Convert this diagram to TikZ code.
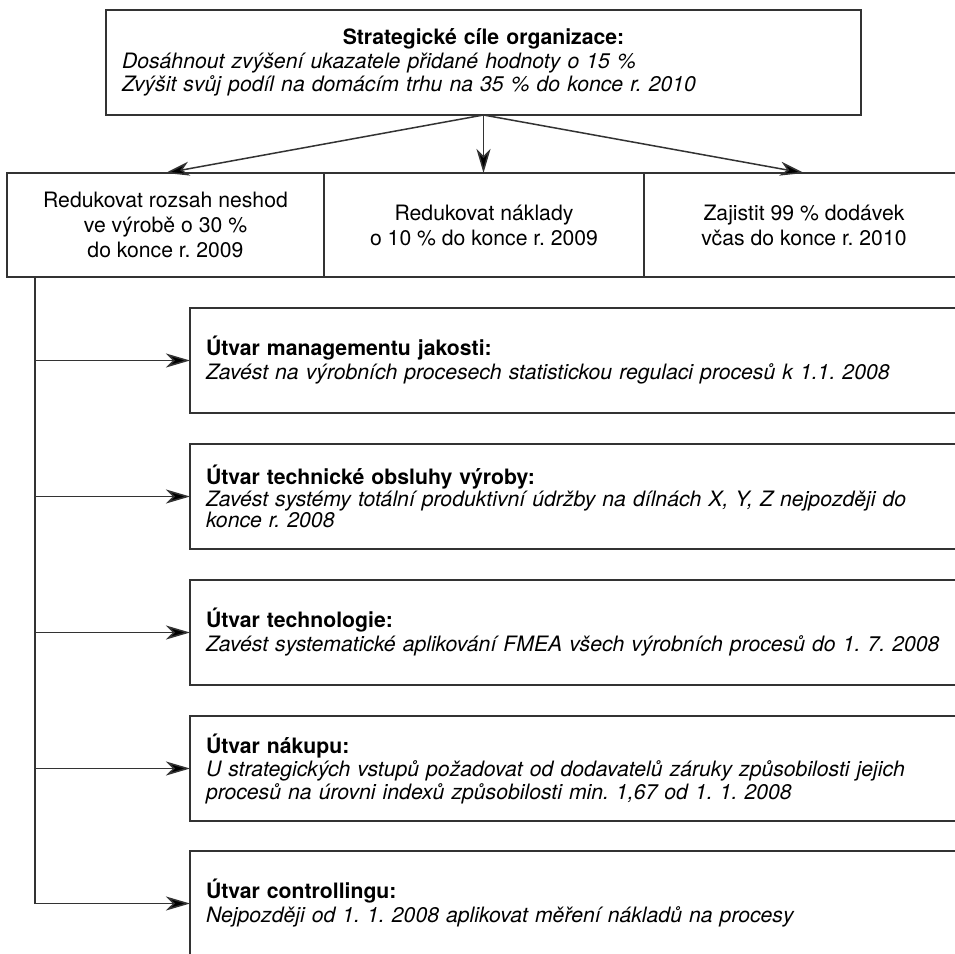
\documentclass[tikz,border=0pt]{standalone}
\usepackage{fontspec}
\setmainfont{TeX Gyre Heros}
\usetikzlibrary{arrows.meta}
\definecolor{ink}{HTML}{333333}

\begin{document}
\frenchspacing
\begin{tikzpicture}[x=1pt,y=-1pt,
  every node/.style={font=\fontsize{21.2}{23}\selectfont, text=black},
  box/.style={draw=ink, line width=1.5pt, rectangle, inner sep=0pt, outer sep=0pt},
  goalcell/.style={box, anchor=north west, minimum height=104pt, align=center,
    font=\fontsize{21.2}{25}\selectfont},
  unitbox/.style={box, anchor=north west, minimum height=105pt,
    text width=760pt, inner xsep=16pt, align=left},
  link/.style={draw=ink, line width=1.5pt},
  arr/.style={link, -{Stealth[length=24pt,width=14pt,inset=7pt,fill=black]}}]

% page frame
\useasboundingbox (0,0) rectangle (955,953);
\fill[white] (0,0) rectangle (955,953);
\clip (0,0) rectangle (955,953);

% strategic objectives
\node[box, anchor=north west, minimum height=105pt, text width=723pt,
  inner xsep=16pt, align=left, font=\fontsize{21.2}{23.5}\selectfont] (top) at (106,10)
  {\makebox[\linewidth]{\bfseries Strategické cíle organizace:}\\
   \itshape Dosáhnout zvýšení ukazatele přidané hodnoty o 15 \%\\
   Zvýšit svůj podíl na domácím trhu na 35 \% do konce r. 2010};

% derived goals
\node[goalcell, minimum width=317pt] (g1) at (7,173)
  {Redukovat rozsah neshod\\ve výrobě o 30 \%\\do konce r. 2009};
\node[goalcell, minimum width=320pt] (g2) at (g1.north east)
  {Redukovat náklady\\o 10 \% do konce r. 2009};
\node[goalcell, minimum width=320pt] (g3) at (g2.north east)
  {Zajistit 99 \% dodávek\\včas do konce r. 2010};

\draw[arr] (top.south) -- (g1.north);
\draw[arr] (top.south) -- (top.south |- g2.north);
\draw[arr] (top.south) -- (g3.north);

% departments
\node[unitbox, font=\fontsize{21.2}{24}\selectfont] (u1) at (190,308)
  {\textbf{Útvar managementu jakosti:}\\
   \textit{Zavést na výrobních procesech statistickou regulaci procesů k 1.1. 2008}};
\node[unitbox, font=\fontsize{21.2}{21.5}\selectfont] (u2) at (190,444)
  {\textbf{Útvar technické obsluhy výroby:}\\
   \textit{Zavést systémy totální produktivní údržby na dílnách X, Y, Z nejpozději do}\\
   \textit{konce r. 2008}};
\node[unitbox, font=\fontsize{21.2}{24}\selectfont] (u3) at (190,580)
  {\textbf{Útvar technologie:}\\
   \textit{Zavést systematické aplikování FMEA všech výrobních procesů do 1. 7. 2008}};
\node[unitbox] (u4) at (190,716)
  {\textbf{Útvar nákupu:}\\
   \textit{U strategických vstupů požadovat od dodavatelů záruky způsobilosti jejich}\\
   \textit{procesů na úrovni indexů způsobilosti min. 1,67 od 1. 1. 2008}};
\node[unitbox, font=\fontsize{21.2}{24}\selectfont] (u5) at (190,851)
  {\textbf{Útvar controllingu:}\\
   \textit{Nejpozději od 1. 1. 2008 aplikovat měření nákladů na procesy}};

% trunk line feeding the departments
\coordinate (trunk) at ([xshift=28pt]g1.south west);
\draw[arr] (trunk) |- (u5.west);
\foreach \u in {u1,u2,u3,u4}
  \draw[arr] (trunk |- \u.west) -- (\u.west);
\end{tikzpicture}
\end{document}
